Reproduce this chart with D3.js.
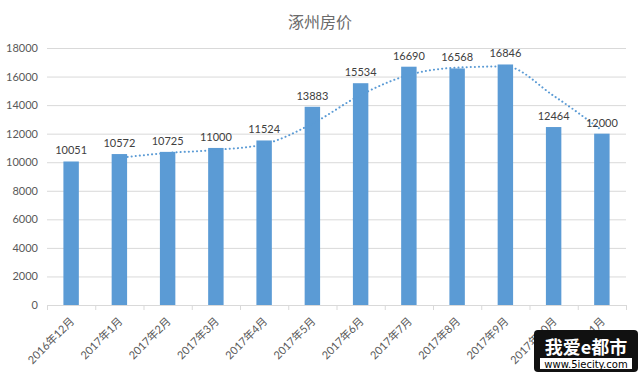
<!DOCTYPE html>
<html>
<head>
<meta charset="utf-8">
<script src="https://cdn.jsdelivr.net/npm/d3@7"></script>
<style>
  body { margin: 0; background: #fff; }
  text { font-family: Lato, "Noto Sans CJK SC", sans-serif; }
</style>
</head>
<body>
<div id="chart"></div>
<script>
// data
var months = ["2016年12月", "2017年1月", "2017年2月", "2017年3月", "2017年4月", "2017年5月",
  "2017年6月", "2017年7月", "2017年8月", "2017年9月", "2017年10月", "2017年11月"];
var prices = [10051, 10572, 10725, 11000, 11524, 13883, 15534, 16690, 16568, 16846, 12464, 12000];
// 2-period moving average trendline (starts at the 2nd month)
var trend = [null, 10312, 10649, 10863, 11262, 12704, 14709, 16112, 16629, 16707, 14655, 12232];
var yTicks = [0, 2000, 4000, 6000, 8000, 10000, 12000, 14000, 16000, 18000];

var svgWidth = 640;
var svgHeight = 372;

var margin = { top: 48, right: 14, bottom: 67, left: 47 };
var width = svgWidth - margin.left - margin.right;
var height = svgHeight - margin.top - margin.bottom;

var svg = d3.select("#chart")
  .append("svg")
  .attr("width", svgWidth)
  .attr("height", svgHeight);

svg.append("text")
  .attr("x", 320)
  .attr("y", 28)
  .attr("text-anchor", "middle")
  .attr("fill", "#6b6b6b")
  .style("font-size", "16px")
  .text("涿州房价");

var plot = svg.append("g")
  .attr("transform", `translate(${margin.left}, ${margin.top})`);

var xScale = d3.scaleBand()
  .domain(months)
  .range([0, width])
  .paddingInner(0.68)
  .paddingOuter(0.34);

var yScale = d3.scaleLinear()
  .domain([0, 18000])
  .range([height, 0]);

// gridlines
plot.append("g")
  .selectAll("line")
  .data(yTicks.slice(1))
  .enter()
  .append("line")
  .attr("x1", 0)
  .attr("x2", width)
  .attr("y1", d => yScale(d) + 0.5)
  .attr("y2", d => yScale(d) + 0.5)
  .attr("stroke", "#d9d9d9");

// y axis labels
var yAxis = d3.axisLeft(yScale).tickValues(yTicks).tickFormat(d3.format("d")).tickSize(0).tickPadding(9);
var yG = plot.append("g").call(yAxis);
yG.select(".domain").remove();
yG.selectAll("text")
  .attr("fill", "#595959")
  .style("font-size", "11px");

// bars
plot.selectAll("rect.bar")
  .data(prices)
  .enter()
  .append("rect")
  .attr("class", "bar")
  .attr("x", (d, i) => xScale(months[i]))
  .attr("y", d => yScale(d))
  .attr("width", xScale.bandwidth())
  .attr("height", d => height - yScale(d))
  .attr("fill", "#5b9bd5");

// x axis
var xAxis = d3.axisBottom(xScale).tickSize(0).tickPadding(0);
var xG = plot.append("g")
  .attr("transform", `translate(0, ${height})`)
  .call(xAxis);
xG.select(".domain").attr("stroke", "#d9d9d9");
// category boundary ticks
xG.selectAll("line.sep")
  .data(d3.range(months.length + 1))
  .enter()
  .append("line")
  .attr("class", "sep")
  .attr("x1", i => i * width / months.length + 0.5)
  .attr("x2", i => i * width / months.length + 0.5)
  .attr("y1", 0)
  .attr("y2", 5)
  .attr("stroke", "#d9d9d9");
xG.selectAll(".tick text")
  .attr("fill", "#595959")
  .style("font-size", "11px")
  .attr("text-anchor", "end")
  .attr("dy", "0")
  .attr("transform", "translate(4, 17) rotate(-45)");

// trendline
var line = d3.line()
  .defined(d => d !== null)
  .x((d, i) => xScale(months[i]) + xScale.bandwidth() / 2)
  .y(d => yScale(d))
  .curve(d3.curveMonotoneX);

plot.append("path")
  .datum(trend)
  .attr("d", line)
  .attr("fill", "none")
  .attr("stroke", "#5b9bd5")
  .attr("stroke-width", 2)
  .attr("stroke-linecap", "round")
  .attr("stroke-dasharray", "0.1,4");

// value labels
plot.selectAll("text.val")
  .data(prices)
  .enter()
  .append("text")
  .attr("class", "val")
  .attr("x", (d, i) => xScale(months[i]) + xScale.bandwidth() / 2)
  .attr("y", d => yScale(d) - 7)
  .attr("text-anchor", "middle")
  .attr("fill", "#404040")
  .style("font-size", "11px")
  .text(d => d);

// watermark
var wm = svg.append("g").attr("transform", "translate(534, 330)");
wm.append("rect")
  .attr("x", 0).attr("y", 0)
  .attr("width", 104).attr("height", 42)
  .attr("rx", 4)
  .attr("fill", "#111");
wm.append("text")
  .attr("x", 52).attr("y", 24)
  .attr("text-anchor", "middle")
  .attr("fill", "#fff")
  .style("font-size", "18px")
  .style("font-weight", "bold")
  .style("font-family", "'Noto Sans CJK SC', sans-serif")
  .text("我爱e都市");
wm.append("rect")
  .attr("x", 6).attr("y", 28)
  .attr("width", 92).attr("height", 11)
  .attr("fill", "#fff");
wm.append("text")
  .attr("x", 52).attr("y", 37.5)
  .attr("text-anchor", "middle")
  .attr("fill", "#000")
  .style("font-size", "10px")
  .style("font-family", "'DejaVu Sans', sans-serif")
  .text("www.5iecity.com");
</script>
</body>
</html>
